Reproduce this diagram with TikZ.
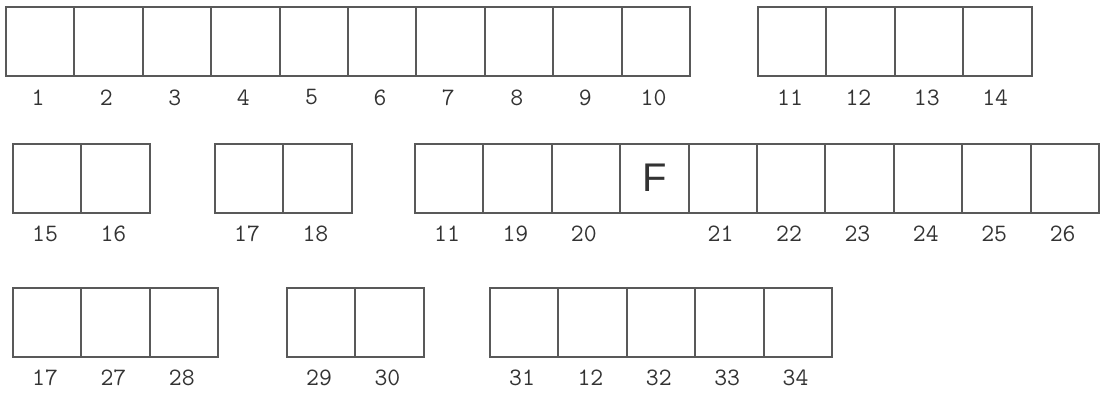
\documentclass[tikz,border=0pt]{standalone}
\usepackage{fontspec}
\newfontfamily\letterfont{Liberation Sans}

\tikzset{
    cell/.style={draw=black!65, line width=2pt, minimum width=68.4pt,
        minimum height=69pt, inner sep=0pt},
    num/.style={font=\ttfamily\fontsize{25}{25}\selectfont, text=black!80,
        inner sep=0pt},
}

\begin{document}
\begin{tikzpicture}[x=1pt, y=-1pt]
    \useasboundingbox (0,0) rectangle (1102,394);

    \foreach \g/\labs/\x/\y in
        {a/{1,2,3,4,5,6,7,8,9,10}/6/41.5,
        b/{11,12,13,14}/758/41.5,
        c/{15,16}/13/178,
        d/{17,18}/215/178,
        e/{11,19,20,{},21,22,23,24,25,26}/415/178,
        f/{17,27,28}/13/322,
        g/{29,30}/287/322,
        h/{31,12,32,33,34}/490/322
        }
        {
            \foreach \lab [count=\k from 0] in \labs
            {
                \node[cell] (\g-\k) at ({\x+34.2+68.4*\k},\y) {};
                \node[num] (\g-\k-lab) at ({\x+32+68.4*\k},{\y+56}) {\lab};
            }
        }

    \node[font=\letterfont\fontsize{40}{40}\selectfont, text=black!80] (mark) at (e-3) {F};

\end{tikzpicture}
\end{document}
